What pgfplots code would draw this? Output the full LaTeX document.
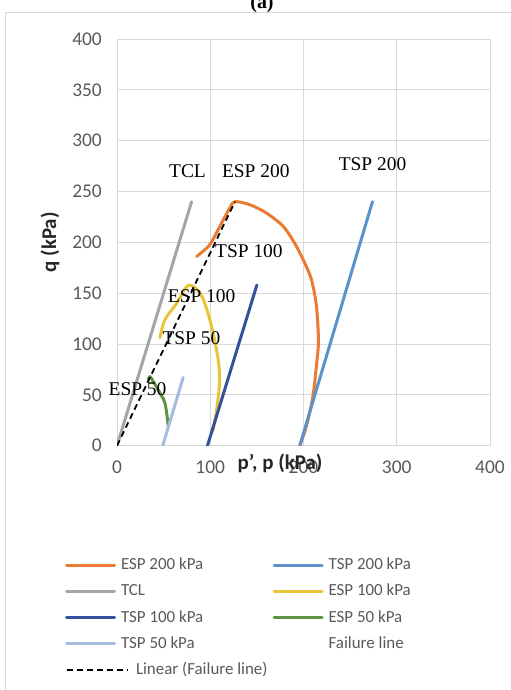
\documentclass[border=0pt]{standalone}
\usepackage{fontspec}
\setmainfont{Carlito}
\newfontfamily\seriffont{Liberation Serif}
\usepackage{pgfplots}
\pgfplotsset{compat=1.18}
\definecolor{cOrange}{HTML}{E97C30}
\definecolor{cTSPtwo}{HTML}{5B93C8}
\definecolor{cGrey}{HTML}{A5A5A5}
\definecolor{cYellow}{HTML}{E8C436}
\definecolor{cDarkBlue}{HTML}{34529A}
\definecolor{cGreen}{HTML}{5F9343}
\definecolor{cLightBlue}{HTML}{A3BCE0}
\definecolor{cGrid}{HTML}{D9D9D9}
\definecolor{cText}{HTML}{595959}
\pgfplotsset{
  longdash legend/.style={legend image code/.code={\draw[##1,overlay] (0bp,0bp) -- (61bp,0bp); \path (0bp,0bp) -- (48bp,0bp);}},
  short legend/.style={legend image code/.code={\draw[##1] (0bp,0bp) -- (48bp,0bp);}},
  empty legend/.style={legend image code/.code={\path (0bp,0bp) -- (48bp,0bp);}},
  ser/.style={line width=3bp, line cap=round, line join=round},
}
\begin{document}
\begin{tikzpicture}
\useasboundingbox (0,0) rectangle (511bp,-690bp);
\clip (0,0) rectangle (511bp,-690bp);
\draw[cGrid, line width=1bp] (5bp,-700bp) -- (5bp,-12bp) -- (520bp,-12bp);
\node[font=\seriffont\bfseries\fontsize{20}{20}\selectfont, anchor=base] at (262bp,-8bp) {(a)};
\begin{axis}[
  at={(117bp,-445.7bp)}, anchor=south west,
  scale only axis, width=373bp, height=406.7bp,
  xmin=0, xmax=400, ymin=0, ymax=400,
  clip mode=individual,
  xtick={0,100,...,400}, ytick={0,50,...,400},
  grid=major, major grid style={draw=cGrid, line width=0.9bp},
  axis line style={draw=none},
  major tick length=0pt, tick style={draw=none},
  /pgf/number format/assume math mode=true,
  ticklabel style={font=\fontsize{19.5}{20}\selectfont, text=cText, inner sep=0pt},
  xticklabel style={anchor=center, yshift=-22bp},
  yticklabel style={anchor=east, xshift=-15bp},
  xlabel={p', p (kPa)},
  xlabel style={at={(axis description cs:0.437,-0.0425)}, anchor=center, font=\bfseries\fontsize{21}{21}\selectfont, text=black!85},
  ylabel={q (kPa)},
  ylabel style={at={(axis description cs:-0.1796,0.5)}, anchor=center, font=\bfseries\fontsize{21}{21}\selectfont, text=black!85},
  legend columns=2,
  legend cell align=left,
  short legend,
  legend style={at={(axis description cs:-0.1394,-0.2749)}, anchor=north west,
    draw=none, fill=none, inner sep=0pt, outer sep=0pt,
    row sep=11.25bp, column sep=0pt,
    font=\fontsize{17}{17}\selectfont, text=cText,
    nodes={inner xsep=5bp, inner ysep=0pt, text height=12bp, text depth=3bp}},
]
% ESP 200 kPa
\addplot[cOrange, ser, smooth, tension=0.5] coordinates {
 (196,0) (203,19) (210,48) (214,80) (216,101) (215,125) (213,143.5) (208,165)
 (199.6,183) (190,200) (178,216) (160,229) (142.5,237) (126.5,240)
 (121,234) (108.5,212.5) (103,203) (98,196) (85.4,186)};
\addlegendentry{\makebox[145bp][l]{ESP 200 kPa}}
% TSP 200 kPa
\addplot[cTSPtwo, ser] coordinates {(196,0) (274,240)};
\addlegendentry{TSP 200 kPa}
% TCL
\addplot[cGrey, ser] coordinates {(0,0) (80,240)};
\addlegendentry{\makebox[145bp][l]{TCL}}
% ESP 100 kPa
\addplot[cYellow, ser, smooth, tension=0.5] coordinates {
 (103,15) (106.8,35) (110,62) (108.6,84) (101.5,117) (91,147) (77,158)
 (64,140) (51.4,124) (46,106)};
\addlegendentry{ESP 100 kPa}
% TSP 100 kPa
\addplot[cDarkBlue, ser] coordinates {(97,0) (150,158)};
\addlegendentry{\makebox[145bp][l]{TSP 100 kPa}}
% ESP 50 kPa
\addplot[cGreen, ser, smooth, tension=0.5] coordinates {
 (55,19) (51.4,42) (44,55) (39,63) (35.4,68) (33.6,65)};
\addlegendentry{ESP 50 kPa}
% TSP 50 kPa
\addplot[cLightBlue, ser] coordinates {(49,0) (71,67)};
\addlegendentry{\makebox[145bp][l]{TSP 50 kPa}}
% Failure line (no line, no marker)
\addplot[draw=none, empty legend] coordinates {(35.4,68) (77,158) (126.5,240)};
\addlegendentry{Failure line}
% Linear (Failure line)
\addplot[black, line width=1.8bp, dash pattern=on 6bp off 4bp, line cap=butt, longdash legend]
  coordinates {(0,0) (126.5,240)};
\addlegendentry{\hspace*{15bp}Linear (Failure line)}
% annotations
\node[font=\seriffont\fontsize{19.5}{20}\selectfont] at (axis cs:75.6,270) {TCL};
\node[font=\seriffont\fontsize{19.5}{20}\selectfont] at (axis cs:148.8,270) {ESP 200};
\node[font=\seriffont\fontsize{19.5}{20}\selectfont] at (axis cs:274,276.5) {TSP 200};
\node[font=\seriffont\fontsize{19.5}{20}\selectfont] at (axis cs:141.5,191) {TSP 100};
\node[font=\seriffont\fontsize{19.5}{20}\selectfont] at (axis cs:90.8,147) {ESP 100};
\node[font=\seriffont\fontsize{19.5}{20}\selectfont] at (axis cs:79.8,106) {TSP 50};
\node[font=\seriffont\fontsize{19.5}{20}\selectfont] at (axis cs:22,56) {ESP 50};
\end{axis}
\end{tikzpicture}
\end{document}
